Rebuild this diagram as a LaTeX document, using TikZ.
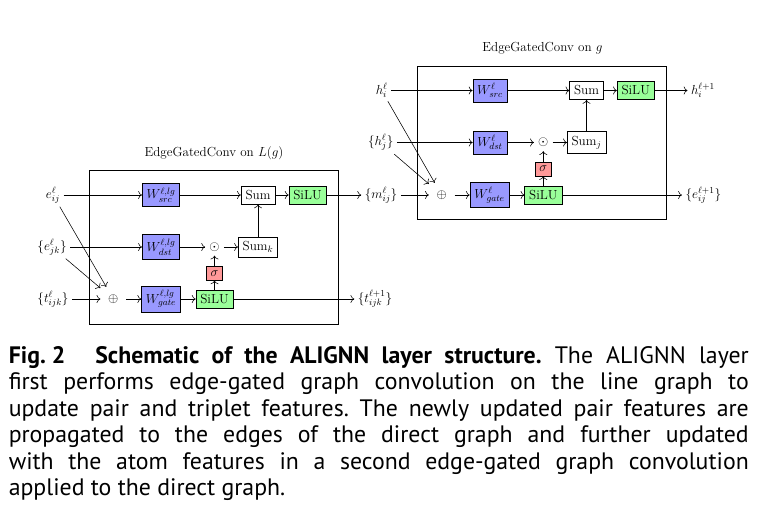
\documentclass[tikz,border=0pt]{standalone}
\usepackage{fix-cm}
\usepackage{fontspec}
\usetikzlibrary{arrows.meta}
\newfontfamily\capfont{PT Sans}
\begin{document}
\begin{tikzpicture}[x=1pt, y=-1pt, font=\fontsize{13.1}{15.7}\selectfont,
  every path/.style={line width=0.55pt},
  >={To[scale=1.35]},
  wbox/.style={draw, fill=blue!40, inner sep=4.4pt},
  silubox/.style={draw, fill=green!40, inner sep=4.4pt},
  sigbox/.style={draw, fill=red!40, inner sep=4pt},
  sumbox/.style={draw, inner sep=4.4pt},
  opnode/.style={inner sep=7.5pt},
  dotnode/.style={inner sep=4pt}]
  \useasboundingbox (0,0) rectangle (767,525);

  % Block 1: EdgeGatedConv on L(g)
  \node (titleL) at (214,153) {EdgeGatedConv on $L(g)$};
  \draw (89,170) rectangle (338,324);
  \node (eij) at (53,195) {$e^{\ell}_{ij}$};
  \node (ejk) at (52,247) {$\{e^{\ell}_{jk}\}$};
  \node (tijk) at (53,299) {$\{t^{\ell}_{ijk}\}$};
  \node[opnode] (oplusL) at (113.3,299) {$\oplus$};
  \node[wbox] (wsrcL) at (161,195) {$W^{\ell,lg}_{src}$};
  \node[wbox] (wdstL) at (161,247) {$W^{\ell,lg}_{dst}$};
  \node[wbox] (wgateL) at (161,299) {$W^{\ell,lg}_{gate}$};
  \node[silubox] (siluL) at (214.5,299) {SiLU};
  \node[sigbox] (sigmaL) at (214.5,273.3) {$\sigma$};
  \node[dotnode] (odotL) at (214.5,247) {$\odot$};
  \node[sumbox] (sumkL) at (258,247) {Sum$_k$};
  \node[sumbox] (sumL) at (258,195) {Sum};
  \node[silubox] (siluoutL) at (307.5,195) {SiLU};
  \node (mij) at (381,195) {$\{m^{\ell}_{ij}\}$};
  \node (tout) at (375,299) {$\{t^{\ell+1}_{ijk}\}$};

  \draw[->] (eij) -- (wsrcL);
  \draw[->] (eij) -- (oplusL);
  \draw[->] (ejk) -- (wdstL);
  \draw[->] (ejk) -- (oplusL);
  \draw[->] (tijk) -- (oplusL);
  \draw[->] (oplusL) -- (wgateL);
  \draw[->] (wgateL) -- (siluL);
  \draw[->] (siluL) -- (sigmaL);
  \draw[->] (sigmaL) -- (odotL);
  \draw[->] (wdstL) -- (odotL);
  \draw[->] (odotL) -- (sumkL);
  \draw[->] (sumkL) -- (sumL);
  \draw[->] (wsrcL) -- (sumL);
  \draw[->] (sumL) -- (siluoutL);
  \draw[->] (siluoutL) -- (mij);
  \draw[->] (siluL) -- (tout);

  % Block 2: EdgeGatedConv on g
  \node (titleR) at (542.5,48.3) {EdgeGatedConv on $g$};
  \draw (417,66) rectangle (666,219);
  \node (hi) at (381.7,90.5) {$h^{\ell}_{i}$};
  \node (hj) at (380.7,142.5) {$\{h^{\ell}_{j}\}$};
  \node[opnode] (oplusR) at (441.7,195) {$\oplus$};
  \node[wbox] (wsrcR) at (490,90.5) {$W^{\ell}_{src}$};
  \node[wbox] (wdstR) at (490,142.5) {$W^{\ell}_{dst}$};
  \node[wbox] (wgateR) at (489.5,195) {$W^{\ell}_{gate}$};
  \node[silubox] (siluR) at (543.3,195) {SiLU};
  \node[sigbox] (sigmaR) at (543.3,169) {$\sigma$};
  \node[dotnode] (odotR) at (543.3,142.5) {$\odot$};
  \node[sumbox] (sumjR) at (586.5,142.5) {Sum$_j$};
  \node[sumbox] (sumR) at (586.5,90.5) {Sum};
  \node[silubox] (siluoutR) at (635.7,90.5) {SiLU};
  \node (hout) at (703,90.5) {$h^{\ell+1}_{i}$};
  \node (eout) at (703.3,195) {$\{e^{\ell+1}_{ij}\}$};

  \draw[->] (hi) -- (wsrcR);
  \draw[->] (hi) -- (oplusR);
  \draw[->] (hj) -- (wdstR);
  \draw[->] (hj) -- (oplusR);
  \draw[->] (mij) -- (oplusR);
  \draw[->] (oplusR) -- (wgateR);
  \draw[->] (wgateR) -- (siluR);
  \draw[->] (siluR) -- (sigmaR);
  \draw[->] (sigmaR) -- (odotR);
  \draw[->] (wdstR) -- (odotR);
  \draw[->] (odotR) -- (sumjR);
  \draw[->] (sumjR) -- (sumR);
  \draw[->] (wsrcR) -- (sumR);
  \draw[->] (sumR) -- (siluoutR);
  \draw[->] (siluoutR) -- (hout);
  \draw[->] (siluR) -- (eout);

  % Caption
  \node[anchor=north west, inner sep=0pt, text width=740pt, align=justify,
    font=\capfont\fontsize{23.8}{26.5}\selectfont] (caption) at (8.5,346)
    {\frenchspacing\hyphenpenalty=10000 \textbf{\mbox{Fig.~2}}\hspace{30pt}\textbf{Schematic of the ALIGNN layer structure.} The ALIGNN layer\linebreak
    first performs edge-gated graph convolution on the line graph to\linebreak
    update pair and triplet features. The newly updated pair features are\linebreak
    propagated to the edges of the direct graph and further updated\linebreak
    with the atom features in a second edge-gated graph convolution\linebreak
    applied to the direct graph.};
\end{tikzpicture}
\end{document}
